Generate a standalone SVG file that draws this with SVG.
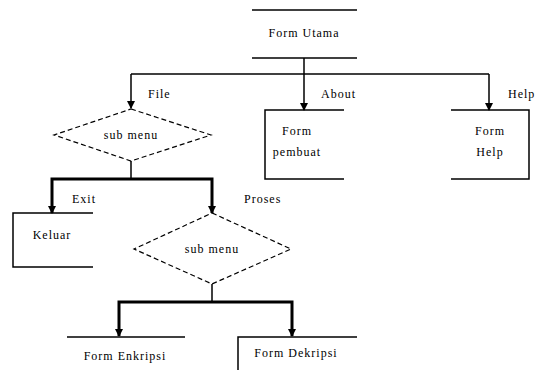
<svg xmlns="http://www.w3.org/2000/svg" width="538" height="370" viewBox="0 0 538 370">
<style>
text{font-family:"Liberation Serif","Times New Roman",serif;font-size:12px;letter-spacing:1px;fill:#000}
.c{text-anchor:middle}
.ln{stroke:#000;stroke-width:1.5;fill:none}
.th{stroke:#000;stroke-width:3;fill:none}
.dia{stroke:#000;stroke-width:1.2;fill:none;stroke-dasharray:5,3}
</style>
<defs>
<marker id="ah" viewBox="0 0 8 8" refX="7" refY="4" markerWidth="8" markerHeight="8" markerUnits="userSpaceOnUse" orient="auto">
<path d="M0,0 L8,4 L0,8 Z" fill="#000"/>
</marker>
</defs>
<rect width="538" height="370" fill="#fff"/>
<g id="connectors">
<line class="ln" x1="304" y1="58" x2="304" y2="74"/>
<line class="ln" x1="131" y1="74" x2="489" y2="74"/>
<line class="ln" x1="131" y1="74" x2="131" y2="108" marker-end="url(#ah)"/>
<line class="ln" x1="304" y1="74" x2="304" y2="110" marker-end="url(#ah)"/>
<line class="ln" x1="489" y1="74" x2="489" y2="110" marker-end="url(#ah)"/>
<line class="ln" x1="131" y1="161" x2="131" y2="179"/>
<polyline class="th" points="52,213 52,179 212,179 212,213"/>
<line class="ln" x1="52" y1="200" x2="52" y2="213" marker-end="url(#ah)"/>
<line class="ln" x1="212" y1="200" x2="212" y2="213" marker-end="url(#ah)"/>
<line class="ln" x1="212" y1="284" x2="212" y2="302"/>
<polyline class="th" points="119,336 119,302 292,302 292,336"/>
<line class="ln" x1="119" y1="323" x2="119" y2="336" marker-end="url(#ah)"/>
<line class="ln" x1="292" y1="323" x2="292" y2="336" marker-end="url(#ah)"/>
<text x="148" y="98">File</text>
<text x="321" y="98">About</text>
<text x="508" y="98">Help</text>
<text x="72" y="203">Exit</text>
<text x="244" y="203">Proses</text>
</g>
<g id="form-utama">
<line class="ln" x1="252" y1="10" x2="357" y2="10"/>
<line class="ln" x1="252" y1="58" x2="357" y2="58"/>
<text class="c" x="304" y="37">Form Utama</text>
</g>
<g id="submenu1">
<polygon class="dia" points="131,109 211,135 131,161 54,135"/>
<text class="c" x="131" y="139">sub menu</text>
</g>
<g id="form-pembuat">
<polyline class="ln" points="344,110 265,110 265,179 344,179"/>
<text class="c" x="297" y="135">Form</text>
<text class="c" x="297" y="156">pembuat</text>
</g>
<g id="form-help">
<polyline class="ln" points="451,110 529,110 529,179 451,179"/>
<text class="c" x="490" y="135">Form</text>
<text class="c" x="490" y="156">Help</text>
</g>
<g id="keluar">
<polyline class="ln" points="93,213 13,213 13,267 93,267"/>
<text class="c" x="52" y="239">Keluar</text>
</g>
<g id="submenu2">
<polygon class="dia" points="212,213 291,249 212,284 134,249"/>
<text class="c" x="212" y="253">sub menu</text>
</g>
<g id="form-enkripsi">
<line class="ln" x1="67" y1="337" x2="185" y2="337"/>
<text class="c" x="125" y="360">Form Enkripsi</text>
</g>
<g id="form-dekripsi">
<polyline class="ln" points="357,337 238,337 238,370"/>
<text class="c" x="296" y="357">Form Dekripsi</text>
</g>
</svg>
